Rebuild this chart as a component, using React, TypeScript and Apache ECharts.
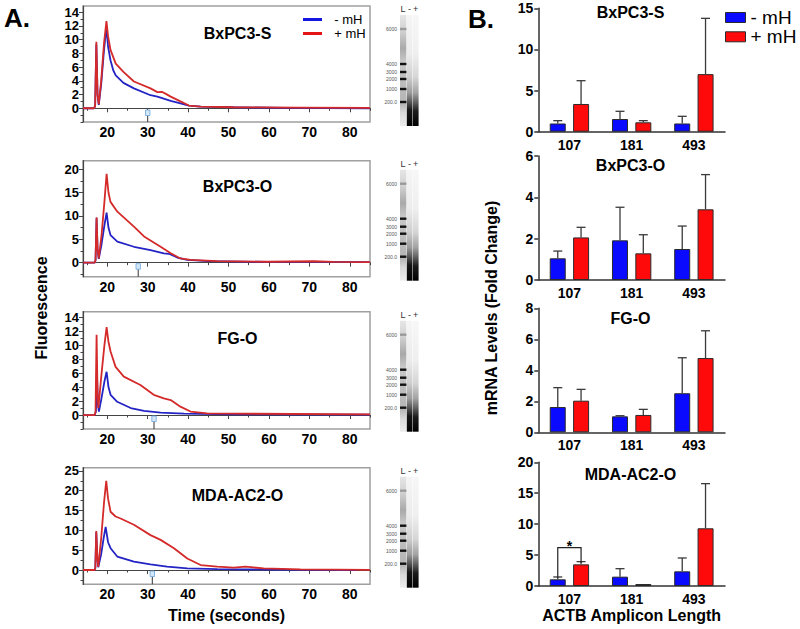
import React, { useEffect, useRef } from 'react';
import * as echarts from 'echarts';

// ---------- Panel A : electropherogram traces [time (s), fluorescence] ----------
const panelNames = ['BxPC3-S', 'BxPC3-O', 'FG-O', 'MDA-AC2-O'];

const bxpc3sMinusTrace = [[14,0],[16.7,0],[17.0,0.3],[17.3,9.3],[17.6,2],[17.9,0.5],[18.5,3.5],[19.2,8.5],[19.8,11.8],[20.2,9],[20.8,7.0],[21.5,5.5],[22.1,4.8],[24,3.7],[26.6,2.9],[30.7,1.9],[32.4,1.7],[35.7,1.07],[38.1,0.73],[40.2,0.4],[43.1,0.25],[51.3,0.15],[64,0.05],[85,0]];
const bxpc3sPlusTrace = [[14,0],[16.7,0],[17.0,0.3],[17.3,9.7],[17.6,2],[17.9,0.6],[18.5,4],[19.2,9.5],[19.8,12.7],[20.2,10.5],[20.8,8.5],[22.1,6.5],[24,5.3],[26.6,3.9],[30.7,2.9],[32.4,2.35],[33.5,2.4],[34.5,2.1],[35.7,1.7],[38.1,1.0],[40.2,0.4],[43.1,0.25],[51.3,0.15],[67.8,0.1],[85,0.05]];

const bxpc3oMinusTrace = [[14,0],[16.9,0],[17.1,0.5],[17.36,9.5],[17.6,3],[17.9,0.8],[18.6,4],[19.3,8],[19.84,10.7],[20.3,7.5],[20.8,5.9],[22.5,4.5],[26.6,3.4],[30.7,2.7],[34,2.0],[35.25,1.9],[37.3,1.1],[39.8,0.6],[45,0.35],[59.6,0.15],[70,0.15],[85,0.1]];
const bxpc3oPlusTrace = [[14,0],[16.9,0],[17.1,0.5],[17.36,9.7],[17.6,3],[17.9,0.9],[18.6,6],[19.3,13],[19.84,19],[20.3,15],[20.8,13],[22.5,10.9],[26.6,7.7],[29.1,5.6],[33.2,3.4],[35.7,2.0],[38.1,0.9],[40.6,0.6],[47.2,0.35],[59.6,0.2],[71.1,0.3],[76,0.15],[85,0.1]];

const fgoMinusTrace = [[14,0],[16.9,0],[17.2,0.5],[17.45,6.0],[17.7,1.5],[17.94,0.5],[18.6,2.5],[19.3,4.8],[19.84,6.2],[20.3,4],[20.82,2.9],[22.47,1.9],[25.8,1.0],[29.1,0.6],[33.2,0.35],[39.0,0.2],[51.3,0.1],[85,0.05]];
const fgoPlusTrace = [[14,0],[16.9,0],[17.1,0.5],[17.36,11.5],[17.6,3],[17.8,1],[18.6,6],[19.3,10],[19.84,12.6],[20.3,10.5],[20.82,9.1],[22.06,6.9],[24.1,5.5],[28.2,4.3],[31.5,2.9],[34,2.4],[35.7,2.15],[38.1,1.2],[40.6,0.5],[44.7,0.25],[51.3,0.2],[85,0.1]];

const mdaMinusTrace = [[14,0],[16.9,0],[17.05,0.5],[17.28,9.5],[17.55,3],[17.77,0.7],[18.5,4],[19.1,8],[19.6,10.9],[20.2,7],[20.82,5.5],[22.47,3.4],[26.6,2.1],[30.7,1.4],[34.8,0.85],[39.8,0.4],[47.2,0.25],[59.6,0.1],[81.8,0]];
const mdaPlusTrace = [[14,0],[16.9,0],[17.05,0.5],[17.28,9.85],[17.55,3],[17.77,0.8],[18.5,8],[19.2,17],[19.75,22.5],[20.2,18],[20.82,14.7],[22.06,13.5],[23.3,13],[26.6,11.4],[30.7,8.8],[33.2,7.6],[36.5,5.5],[39.8,2.9],[43.1,1.25],[47.2,0.85],[51.3,0.6],[54.2,0.85],[58.7,0.4],[67.8,0.17],[85,0.05]];

const minusTraces = [bxpc3sMinusTrace, bxpc3oMinusTrace, fgoMinusTrace, mdaMinusTrace];
const plusTraces = [bxpc3sPlusTrace, bxpc3oPlusTrace, fgoPlusTrace, mdaPlusTrace];

// axis ranges / tick labels of panel A
const traceYMin = [-2, -3, -2, -3.6];
const traceYMax = [14.9, 21.8, 14.8, 25.8];
const traceYTicks = [
  [0, 2, 4, 6, 8, 10, 12, 14],
  [0, 5, 10, 15, 20],
  [0, 2, 4, 6, 8, 10, 12, 14],
  [0, 5, 10, 15, 20, 25],
];
const traceYMinorTicks = [
  [-2, -1, 0, 1, 2, 3, 4, 5, 6, 7, 8, 9, 10, 11, 12, 13, 14],
  [-2.5, 0, 2.5, 5, 7.5, 10, 12.5, 15, 17.5, 20],
  [-2, -1, 0, 1, 2, 3, 4, 5, 6, 7, 8, 9, 10, 11, 12, 13, 14],
  [-2.5, 0, 2.5, 5, 7.5, 10, 12.5, 15, 17.5, 20, 22.5, 25],
];
const timeTicks = [20, 30, 40, 50, 60, 70, 80];
const timeMinorTicks = [15, 25, 35, 45, 55, 65, 75, 85];
const ladderSizes = ['6000', '4000', '3000', '2000', '1000', '200.0'];

// ---------- Panel B : mRNA levels (fold change) ----------
const ampliconLengths = ['107', '181', '493'];
const bxpc3sMinus = [1.0, 1.54, 1.0];
const bxpc3sMinusUpper = [1.34, 2.48, 1.87];
const bxpc3sPlus = [3.37, 1.14, 7.0];
const bxpc3sPlusUpper = [6.2, 1.34, 13.78];

const bxpc3oMinus = [1.05, 1.92, 1.5];
const bxpc3oMinusUpper = [1.4, 3.52, 2.61];
const bxpc3oPlus = [2.06, 1.29, 3.42];
const bxpc3oPlusUpper = [2.55, 2.19, 5.1];

const fgoMinus = [1.63, 1.03, 2.52];
const fgoMinusUpper = [2.88, 1.07, 4.81];
const fgoPlus = [2.04, 1.12, 4.79];
const fgoPlusUpper = [2.77, 1.48, 6.55];

const mdaMinus = [1.08, 1.51, 2.37];
const mdaMinusUpper = [1.46, 2.8, 4.53];
const mdaPlus = [3.5, 0.32, 9.33];
const mdaPlusUpper = [3.94, 0.32, 16.55];

const barMinus = [bxpc3sMinus, bxpc3oMinus, fgoMinus, mdaMinus];
const barMinusUpper = [bxpc3sMinusUpper, bxpc3oMinusUpper, fgoMinusUpper, mdaMinusUpper];
const barPlus = [bxpc3sPlus, bxpc3oPlus, fgoPlus, mdaPlus];
const barPlusUpper = [bxpc3sPlusUpper, bxpc3oPlusUpper, fgoPlusUpper, mdaPlusUpper];
const barYMax = [15, 6, 8, 20];
const barYInterval = [5, 2, 2, 5];
// significance bracket: [category, bracket height, left foot, right foot]
const sigBracket = [[0, 6.2, 1.34, 3.77]];

const FONT = 'Liberation Sans, Arial, sans-serif';
const LINE_BLUE = '#2424c4';
const LINE_RED = '#d42a2a';
const BAR_BLUE = '#0a0aff';
const BAR_RED = '#ff0a0a';

const leftTops = [6, 160.7, 311.7, 467.7];
const leftHeights = [116, 116, 117.3, 116.6];
const rightTops = [8.3, 156, 308.3, 462.3];
const rightHeights = [123.4, 124, 124, 123.7];
const BAR_OFFSET = 11.65;

function gel(dy: number) {
  const top = 15 + dy;
  const h = 111;
  const els: any[] = [];
  const grad = (stops: [number, string][]) =>
    new echarts.graphic.LinearGradient(0, 0, 0, 1, stops.map(([o, c]) => ({ offset: o, color: c })));
  els.push({ type: 'rect', shape: { x: 400, y: top, width: 6.4, height: h }, style: { fill: grad([[0, '#e6e6e6'], [0.15, '#d0d0d0'], [0.3, '#a9a9a9'], [0.42, '#c8c8c8'], [0.6, '#bdbdbd'], [0.8, '#b5b5b5'], [0.88, '#d8d8d8'], [1, '#ececec']]) } });
  els.push({ type: 'rect', shape: { x: 406.8, y: top, width: 5.6, height: h }, style: { fill: grad([[0, '#f5f5f5'], [0.35, '#ececec'], [0.56, '#cfcfcf'], [0.7, '#9c9c9c'], [0.78, '#5a5a5a'], [0.86, '#141414'], [1, '#000']]) } });
  els.push({ type: 'rect', shape: { x: 412.8, y: top, width: 5.8, height: h }, style: { fill: grad([[0, '#f7f7f7'], [0.35, '#efefef'], [0.56, '#d6d6d6'], [0.7, '#a3a3a3'], [0.78, '#666'], [0.87, '#1a1a1a'], [1, '#000']]) } });
  const bandY = [29, 64, 72, 79, 89, 102];
  bandY.forEach((y, i) => {
    els.push({ type: 'rect', shape: { x: 400, y: y + dy - 1.2, width: 6.4, height: 2.4 }, style: { fill: i === 0 ? '#9a9a9a' : '#111' } });
    els.push({ type: 'text', x: 397, y: y + dy, style: { text: ladderSizes[i], fill: '#555', font: `5px ${FONT}`, textAlign: 'right', textVerticalAlign: 'middle' } });
  });
  [['L', 403], ['-', 409.5], ['+', 415.6]].forEach(([t, x]) => {
    els.push({ type: 'text', x: x as number, y: 9 + dy, style: { text: t as string, fill: '#333', font: `9px ${FONT}`, textAlign: 'center', textVerticalAlign: 'middle' } });
  });
  return els;
}

export default function App() {
  const ref = useRef<HTMLDivElement>(null);
  useEffect(() => {
    document.body.style.margin = '0';
    const chart = echarts.init(ref.current!, null, { renderer: 'svg' });
    const axisLabelStyle = { fontFamily: FONT, fontWeight: 'bold', fontSize: 14, color: '#000' };
    const grids: any[] = [];
    const xAxes: any[] = [];
    const yAxes: any[] = [];
    const series: any[] = [];

    for (let i = 0; i < 4; i++) {
      grids.push({ left: 83, width: 287, top: leftTops[i], height: leftHeights[i], show: true, borderColor: '#a0a0a0', borderWidth: 1.5, backgroundColor: '#fff' });
    }
    for (let i = 0; i < 4; i++) {
      grids.push({ left: 538.3, width: 186.7, top: rightTops[i], height: rightHeights[i] });
    }
    // left main axes 0-3
    for (let i = 0; i < 4; i++) {
      xAxes.push({
        type: 'value', gridIndex: i, min: 14, max: 85,
        axisLine: { show: true, lineStyle: { color: '#444', width: 1.2 } },
        axisTick: { show: true, length: 4, customValues: timeTicks, lineStyle: { color: '#444' } },
        axisLabel: { customValues: timeTicks, margin: 3, ...axisLabelStyle },
        splitLine: { show: false },
        ...(i === 3 ? { name: 'Time (seconds)', nameLocation: 'middle', nameGap: 23, nameTextStyle: { fontFamily: FONT, fontWeight: 'bold', fontSize: 16, color: '#000' } } : {}),
      });
      yAxes.push({
        type: 'value', gridIndex: i, min: traceYMin[i], max: traceYMax[i],
        axisLine: { show: true, lineStyle: { color: '#444', width: 1.2 } },
        axisTick: { show: true, length: 4, customValues: traceYTicks[i], lineStyle: { color: '#444' } },
        axisLabel: { customValues: traceYTicks[i], margin: 4, ...axisLabelStyle, fontSize: 13, lineHeight: 11, hideOverlap: false, showMinLabel: true, showMaxLabel: true },
        splitLine: { show: false },
      });
    }
    // right main axes 4-7
    for (let i = 0; i < 4; i++) {
      xAxes.push({
        type: 'category', gridIndex: 4 + i, data: ampliconLengths,
        axisLine: { show: true, lineStyle: { color: '#333', width: 1.5 } },
        axisTick: { show: false },
        axisLabel: { margin: 6, ...axisLabelStyle },
        ...(i === 3 ? { name: 'ACTB Amplicon Length', nameLocation: 'middle', nameGap: 21, nameTextStyle: { fontFamily: FONT, fontWeight: 'bold', fontSize: 16, color: '#000' } } : {}),
      });
      yAxes.push({
        type: 'value', gridIndex: 4 + i, min: 0, max: barYMax[i], interval: barYInterval[i],
        axisLine: { show: true, lineStyle: { color: '#333', width: 1.5 } },
        axisTick: { show: true, length: 4, lineStyle: { color: '#333', width: 1.5 } },
        axisLabel: { margin: 5, ...axisLabelStyle },
        splitLine: { show: false },
      });
    }
    // left minor-tick axes 8-11
    for (let i = 0; i < 4; i++) {
      xAxes.push({
        type: 'value', gridIndex: i, min: 14, max: 85, position: 'bottom',
        axisLine: { show: false }, axisLabel: { show: false }, splitLine: { show: false },
        axisTick: { show: true, length: 2.5, customValues: timeMinorTicks, lineStyle: { color: '#444' } },
      });
      yAxes.push({
        type: 'value', gridIndex: i, min: traceYMin[i], max: traceYMax[i], position: 'left',
        axisLine: { show: false }, axisLabel: { show: false }, splitLine: { show: false },
        axisTick: { show: true, length: 2.5, customValues: traceYMinorTicks[i], lineStyle: { color: '#444' } },
      });
    }

    for (let i = 0; i < 4; i++) {
      series.push({ type: 'line', name: '- mH', xAxisIndex: i, yAxisIndex: i, data: minusTraces[i], showSymbol: false, lineStyle: { color: LINE_BLUE, width: 1.8 }, itemStyle: { color: LINE_BLUE }, z: 3 });
      series.push({ type: 'line', name: '+ mH', xAxisIndex: i, yAxisIndex: i, data: plusTraces[i], showSymbol: false, lineStyle: { color: LINE_RED, width: 1.8 }, itemStyle: { color: LINE_RED }, z: 4 });
    }
    for (let i = 0; i < 4; i++) {
      const xi = 4 + i;
      series.push({ type: 'bar', name: '- mH', xAxisIndex: xi, yAxisIndex: xi, data: barMinus[i], barWidth: 16, barGap: '46%', itemStyle: { color: BAR_BLUE, borderColor: '#2a2a2a', borderWidth: 1 } });
      series.push({ type: 'bar', name: '+ mH', xAxisIndex: xi, yAxisIndex: xi, data: barPlus[i], barWidth: 16, barGap: '46%', itemStyle: { color: BAR_RED, borderColor: '#2a2a2a', borderWidth: 1 } });
      const errData: any[] = [];
      ampliconLengths.forEach((_, c) => {
        errData.push([c, barMinus[i][c], barMinusUpper[i][c], -1]);
        errData.push([c, barPlus[i][c], barPlusUpper[i][c], 1]);
      });
      series.push({
        type: 'custom', xAxisIndex: xi, yAxisIndex: xi, data: errData, z: 5, silent: true,
        renderItem: (params: any, api: any) => {
          const base = api.coord([api.value(0), api.value(1)]);
          const top = api.coord([api.value(0), api.value(2)]);
          if (Math.abs(base[1] - top[1]) < 0.5) return null;
          const x = base[0] + api.value(3) * BAR_OFFSET;
          const st = { stroke: '#3a3a3a', lineWidth: 1.3 };
          return {
            type: 'group', children: [
              { type: 'line', shape: { x1: x, y1: base[1], x2: x, y2: top[1] }, style: st },
              { type: 'line', shape: { x1: x - 4.5, y1: top[1], x2: x + 4.5, y2: top[1] }, style: st },
            ],
          };
        },
      });
    }
    series.push({
      type: 'custom', xAxisIndex: 7, yAxisIndex: 7, data: sigBracket, z: 6, silent: true,
      renderItem: (params: any, api: any) => {
        const c = api.coord([api.value(0), api.value(1)]);
        const yl = api.coord([api.value(0), api.value(2)])[1];
        const yr = api.coord([api.value(0), api.value(3)])[1];
        const xl = c[0] - BAR_OFFSET;
        const xr = c[0] + BAR_OFFSET;
        return {
          type: 'group', children: [
            { type: 'polyline', shape: { points: [[xl, yl], [xl, c[1]], [xr, c[1]], [xr, yr]] }, style: { stroke: '#222', lineWidth: 1.2, fill: null } },
            { type: 'text', x: c[0], y: c[1] - 2, style: { text: '*', font: `bold 14px ${FONT}`, fill: '#000', textAlign: 'center', textVerticalAlign: 'middle' } },
          ],
        };
      },
    });

    const graphic: any[] = [];
    graphic.push({ type: 'text', x: 4, y: 18, style: { text: 'A.', font: `bold 26px ${FONT}`, fill: '#000', textVerticalAlign: 'middle' } });
    graphic.push({ type: 'text', x: 468, y: 19, style: { text: 'B.', font: `bold 26px ${FONT}`, fill: '#000', textVerticalAlign: 'middle' } });
    const leftTitleY = [33, 186.7, 338, 495];
    const rightTitleY = [12.7, 165, 318, 474];
    for (let i = 0; i < 4; i++) {
      graphic.push({ type: 'text', x: 237.5, y: leftTitleY[i], z: 10, style: { text: panelNames[i], font: `bold 16px ${FONT}`, fill: '#000', textAlign: 'center', textVerticalAlign: 'middle' } });
      graphic.push({ type: 'text', x: 630.5, y: rightTitleY[i], style: { text: panelNames[i], font: `bold 16px ${FONT}`, fill: '#000', textAlign: 'center', textVerticalAlign: 'middle' } });
    }
    graphic.push({ type: 'text', x: 41.5, y: 308, rotation: Math.PI / 2, style: { text: 'Fluorescence', font: `bold 16px ${FONT}`, fill: '#000', textAlign: 'center', textVerticalAlign: 'middle' } });
    graphic.push({ type: 'text', x: 491, y: 308, rotation: Math.PI / 2, style: { text: 'mRNA Levels (Fold Change)', font: `bold 16px ${FONT}`, fill: '#000', textAlign: 'center', textVerticalAlign: 'middle' } });
    const gelDy = [0, 154.7, 305.7, 461.7];
    gelDy.forEach((dy) => graphic.push(...gel(dy)));
    // size-standard markers in the traces
    const markers = [[147.7, 113, 122], [138.2, 266.7, 276.7], [154, 419, 429], [152.3, 574, 584.3]];
    markers.forEach(([x, y, yb]) => {
      graphic.push({ type: 'line', z: 10, shape: { x1: x, y1: y + 2.5, x2: x, y2: yb }, style: { stroke: '#333', lineWidth: 1 } });
      graphic.push({ type: 'rect', z: 10, shape: { x: x - 2.2, y: y - 3, width: 4.4, height: 5.5 }, style: { fill: '#d6e8f8', stroke: '#6aa6de', lineWidth: 0.8 } });
    });

    chart.setOption({
      animation: false,
      backgroundColor: '#fff',
      grid: grids,
      xAxis: xAxes,
      yAxis: yAxes,
      series,
      legend: [
        {
          orient: 'vertical', left: 303, top: 13, padding: 0, itemWidth: 19, itemHeight: 3, itemGap: 1, selectedMode: false,
          formatter: (n: string) => '  ' + n,
          textStyle: { fontFamily: FONT, fontSize: 13, lineHeight: 13, color: '#000' },
          data: [
            { name: '- mH', icon: 'rect', itemStyle: { color: '#1515e0', borderWidth: 0 } },
            { name: '+ mH', icon: 'rect', itemStyle: { color: '#e51515', borderWidth: 0 } },
          ],
        },
        {
          orient: 'vertical', left: 725, top: 8, padding: 0, itemWidth: 20, itemHeight: 10, itemGap: 0.3, selectedMode: false,
          textStyle: { fontFamily: FONT, fontSize: 19, lineHeight: 17, color: '#000' },
          data: [
            { name: '- mH', icon: 'rect', itemStyle: { color: BAR_BLUE, borderColor: '#2a2a2a', borderWidth: 1 } },
            { name: '+ mH', icon: 'rect', itemStyle: { color: BAR_RED, borderColor: '#2a2a2a', borderWidth: 1 } },
          ],
        },
      ],
      graphic,
    });
    return () => chart.dispose();
  }, []);
  return <div ref={ref} style={{ position: 'absolute', left: 0, top: 0, width: 800, height: 629 }} />;
}
